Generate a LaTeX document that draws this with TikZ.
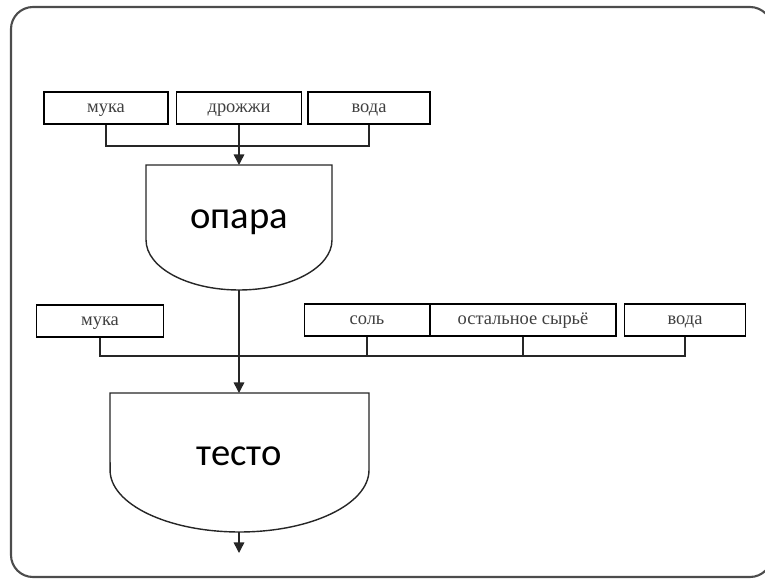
\documentclass[tikz,border=0pt]{standalone}
\usepackage{fontspec}
\setmainfont{Liberation Serif}
\newfontfamily\vesselfont{Carlito}
\usetikzlibrary{arrows.meta}

\begin{document}
\begin{tikzpicture}[x=0.02cm, y=-0.02cm,
  item/.style={
    rectangle, draw=black, thick, fill=white,
    minimum height=0.64cm, inner sep=0pt,
    text height=1ex, text depth=0pt,
    font=\fontsize{10.5}{12}\selectfont\color{black!75}
  },
  vessel/.style={draw=black!85, thick, fill=white},
  title/.style={font=\vesselfont\fontsize{22}{24}\selectfont},
  line/.style={thick, black!85},
  arrow/.style={line, -{Triangle[width=6pt,length=6pt]}},
  frame/.style={draw=black!70, line width=1.2pt, rounded corners=0.44cm}
]
\useasboundingbox (0,0) rectangle (765,579);
\clip (0,0) rectangle (765,579);
\draw[frame] (11,7) rectangle (772,577);

% first stage
\node[item, minimum width=2.48cm] (flour1) at (106,108) {мука};
\node[item, minimum width=2.50cm] (yeast)  at (239,108) {дрожжи};
\node[item, minimum width=2.44cm] (water1) at (369,108) {вода};

\draw[vessel] (146,165) -- (332,165) -- (332,240)
  arc[start angle=0, end angle=-180, x radius=1.86cm, y radius=1cm] -- cycle;
\node[title] (sponge) at (239,222) {опара};
\coordinate (spongein)  at (239,165);
\coordinate (spongeout) at (239,290);
\coordinate (join1) at (239,146);

\draw[line] (flour1.south) |- (join1) -| (water1.south);
\draw[arrow] (yeast.south) -- (spongein);

% second stage
\node[item, minimum width=2.54cm] (flour2) at (100,321) {мука};
\node[item, minimum width=2.50cm] (salt)   at (367,320) {соль};
\node[item, minimum width=3.72cm] (rest)   at (523,320) {остальное сырьё};
\node[item, minimum width=2.42cm] (water2) at (685,320) {вода};

\draw[vessel] (110,393) -- (369,393) -- (369,470)
  arc[start angle=0, end angle=-180, x radius=2.59cm, y radius=1.24cm] -- cycle;
\node[title] (dough) at (239,456) {тесто};
\coordinate (doughin)  at (239,393);
\coordinate (doughout) at (239,532);
\coordinate (outlet)   at (239,553);
\coordinate (join2) at (239,356);

\draw[line] (flour2.south) |- (join2) -| (water2.south);
\draw[line] (salt.south) -- (salt.south |- join2);
\draw[line] (rest.south) -- (rest.south |- join2);
\draw[arrow] (spongeout) -- (doughin);
\draw[arrow] (doughout) -- (outlet);
\end{tikzpicture}
\end{document}
